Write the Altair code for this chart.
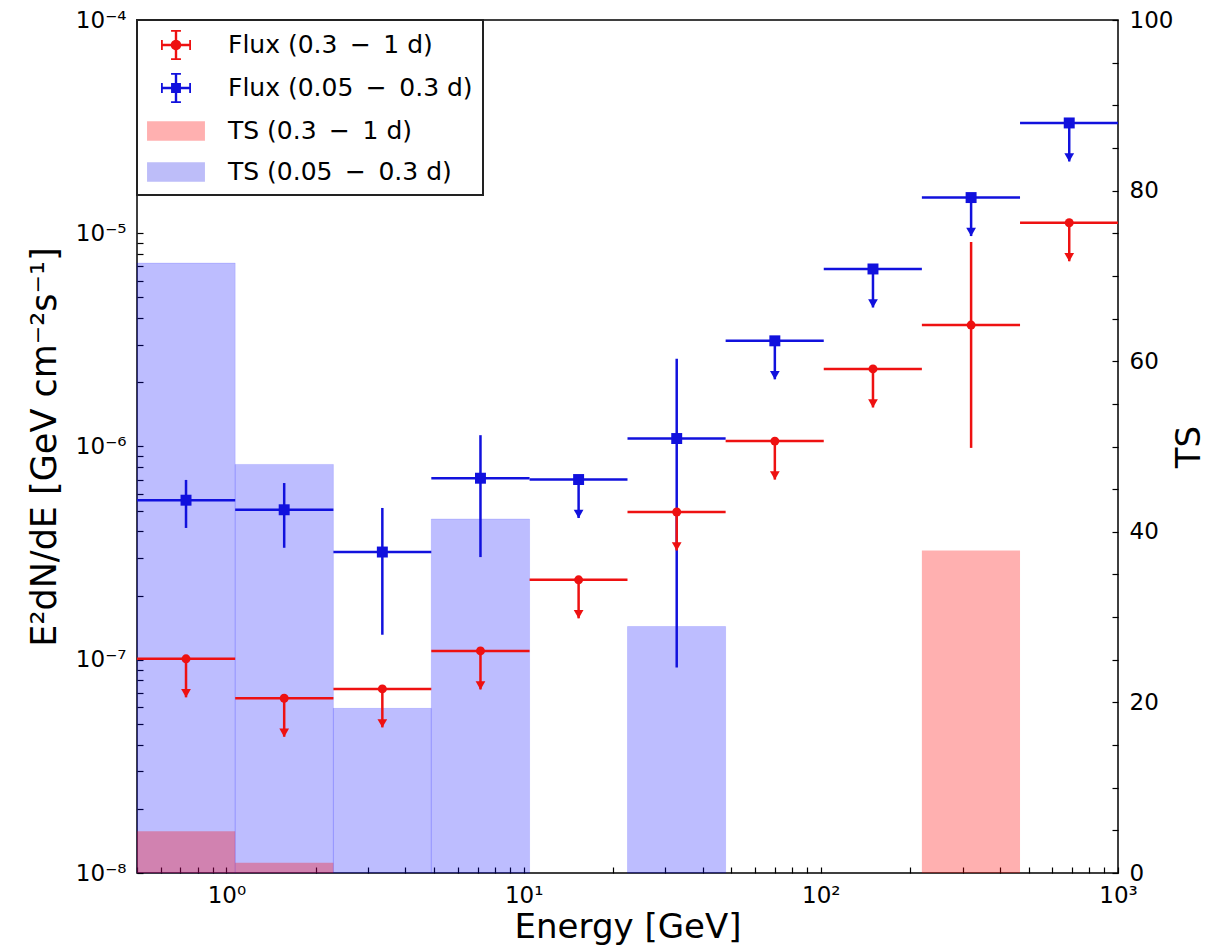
import altair as alt
import pandas as pd

# ---------------- data ----------------
E_LO = [0.5, 1.07, 2.29, 4.89, 10.47, 22.36, 47.83, 102.3, 218.8, 468.1]
E_HI = [1.07, 2.29, 4.89, 10.47, 22.36, 47.83, 102.3, 218.8, 468.1, 1000.0]
E_MID = [0.731, 1.564, 3.346, 7.157, 15.31, 32.74, 70.03, 149.8, 320.4, 685.3]

RED_FLUX = [1.01e-7, 6.6e-8, 7.3e-8, 1.10e-7, 2.37e-7, 4.93e-7, 1.06e-6, 2.31e-6, 3.71e-6, 1.12e-5]
RED_UL = [1, 1, 1, 1, 1, 1, 1, 1, 0, 1]
RED_ERR_LO = [None, None, None, None, None, None, None, None, 9.85e-7, None]
RED_ERR_HI = [None, None, None, None, None, None, None, None, 9.1e-6, None]

BLUE_FLUX = [5.6e-7, 5.05e-7, 3.2e-7, 7.1e-7, 7.0e-7, 1.09e-6, 3.13e-6, 6.8e-6, 1.47e-5, 3.29e-5]
BLUE_UL = [0, 0, 0, 0, 1, 0, 1, 1, 1, 1]
BLUE_ERR_LO = [4.15e-7, 3.35e-7, 1.31e-7, 3.03e-7, None, 9.2e-8, None, None, None, None]
BLUE_ERR_HI = [6.97e-7, 6.74e-7, 5.15e-7, 1.13e-6, None, 2.58e-6, None, None, None, None]

TS_RED = [4.9, 1.2, 0, 0, 0, 0, 0, 0, 37.8, 0]
TS_BLUE = [71.5, 47.9, 19.3, 41.5, 0, 28.9, 0, 0, 0, 0]

LEG_LABELS = ["Flux (0.3\u2002\u2212\u20021 d)", "Flux (0.05\u2002\u2212\u20020.3 d)",
              "TS (0.3\u2002\u2212\u20021 d)", "TS (0.05\u2002\u2212\u20020.3 d)"]

X_MAJOR = [1, 10, 100, 1000]
Y_MAJOR = [1e-8, 1e-7, 1e-6, 1e-5, 1e-4]
TS_TICKS = list(range(0, 101, 5))

# ---------------- styles ----------------
RED = "#ee1111"
BLUE = "#1111dd"
RED_PATCH = "#ffb0b0"
BLUE_PATCH = "#bdbdf9"
ARROW = 0.66      # upper-limit arrow length (fraction of value)
FONT = "DejaVu Sans"
LW = 2.5
TICK = 6

X_TICKS = sorted([k * 10.0 ** e for e in range(-1, 3) for k in range(1, 10)
                  if 0.5 <= k * 10.0 ** e <= 1000] + [1000])
Y_TICKS = sorted([k * 10.0 ** e for e in range(-8, -4) for k in range(1, 10)] + [1e-4])

XS = alt.Scale(type="log", domain=[0.5, 1000], nice=False)
YS = alt.Scale(type="log", domain=[1e-8, 1e-4], nice=False)
TSS = alt.Scale(domain=[0, 100], nice=False, zero=True)

# axes pulled inside by the tick length so that ticks point into the frame
common_axis = dict(grid=False, domain=False, offset=-TICK, tickSize=TICK, tickColor="black",
                   tickWidth=1.2, labelColor="black",
                   titleColor="black", labelFont=FONT, titleFont=FONT,
                   labelFontSize=23, titleFontWeight="normal",
                   labelFlush=False, labelOverlap=False, labelPadding=5 + TICK)

XAXIS = alt.Axis(title="Energy [GeV]", values=X_TICKS, titleFontSize=34,
                 labelExpr=("datum.value == 1 ? '10\u2070' : datum.value == 10 ? '10\u00b9' : "
                            "datum.value == 100 ? '10\u00b2' : datum.value == 1000 ? '10\u00b3' : ''"),
                 titlePadding=3, **common_axis)
YAXIS = alt.Axis(title="E\u00b2dN/dE [GeV cm\u207b\u00b2s\u207b\u00b9]", values=Y_TICKS, orient="left",
                 titleFontSize=35,
                 labelExpr=("datum.value == 1e-8 ? '10\u207b\u2078' : datum.value == 1e-7 ? '10\u207b\u2077' : "
                            "datum.value == 1e-6 ? '10\u207b\u2076' : datum.value == 1e-5 ? '10\u207b\u2075' : "
                            "datum.value == 1e-4 ? '10\u207b\u2074' : ''"),
                 titlePadding=13, **common_axis)
TSAXIS = alt.Axis(title="TS", values=TS_TICKS, orient="right", titleAngle=270, titleFontSize=34,
                  labelExpr="datum.value % 20 == 0 ? datum.label : ''",
                  titlePadding=34, **common_axis)


def xe(field):
    return alt.X(field, type="quantitative", scale=XS, axis=XAXIS)


def ye(field):
    return alt.Y(field, type="quantitative", scale=YS, axis=YAXIS)


def flux_frame(flux, ul, lo, hi):
    return pd.DataFrame({
        "e_lo": E_LO, "e_hi": E_HI, "e_mid": E_MID, "flux": flux, "ul": ul,
        "err_lo": lo, "err_hi": hi,
        "tip": [f * ARROW if u else None for f, u in zip(flux, ul)],
    })


def series_layers(df, color, shape, size):
    base = alt.Chart(df)
    hline = base.mark_rule(color=color, strokeWidth=LW).encode(
        x=xe("e_lo"), x2="e_hi", y=ye("flux"))
    verr = base.transform_filter("datum.ul == 0").mark_rule(color=color, strokeWidth=LW).encode(
        x=xe("e_mid"), y=ye("err_lo"), y2="err_hi")
    ulr = base.transform_filter("datum.ul == 1").mark_rule(color=color, strokeWidth=LW).encode(
        x=xe("e_mid"), y=ye("flux"), y2="tip")
    head = base.transform_filter("datum.ul == 1").mark_point(
        shape="triangle-down", filled=True, size=95, color=color, opacity=1, yOffset=-4
    ).encode(x=xe("e_mid"), y=ye("tip"))
    pt = base.mark_point(shape=shape, filled=True, size=size, color=color, opacity=1).encode(
        x=xe("e_mid"), y=ye("flux"))
    return [hline, verr, ulr, head, pt]


red_df = flux_frame(RED_FLUX, RED_UL, RED_ERR_LO, RED_ERR_HI)
blue_df = flux_frame(BLUE_FLUX, BLUE_UL, BLUE_ERR_LO, BLUE_ERR_HI)

# ---------------- TS bars (right axis) ----------------
ts_df = pd.DataFrame({"e_lo": E_LO, "e_hi": E_HI, "ts_red": TS_RED, "ts_blue": TS_BLUE})
blue_bars = alt.Chart(ts_df).transform_filter("datum.ts_blue > 0").mark_rect(
    fill="#0000ff", fillOpacity=0.26, stroke="#0000ff", strokeOpacity=0.12, strokeWidth=1
).encode(x=xe("e_lo"), x2="e_hi",
         y=alt.Y("ts_blue", type="quantitative", scale=TSS, axis=TSAXIS),
         y2=alt.datum(0))
red_bars = alt.Chart(ts_df).transform_filter("datum.ts_red > 0").mark_rect(
    fill="#ff0000", fillOpacity=0.31, strokeWidth=0
).encode(x=xe("e_lo"), x2="e_hi",
         y=alt.Y("ts_red", type="quantitative", scale=TSS, axis=TSAXIS),
         y2=alt.datum(0))
ts_layer = alt.layer(blue_bars, red_bars)

# ---------------- legend ----------------
PATH_ERR_RED = ("M-1,-0.08H1V0.08H-1Z M-0.08,-1H0.08V1H-0.08Z "
                "M-1,-0.33H-0.88V0.33H-1Z M0.88,-0.33H1V0.33H0.88Z "
                "M-0.33,-1H0.33V-0.88H-0.33Z M-0.33,0.88H0.33V1H-0.33Z "
                "M-0.35,0A0.35,0.35,0,1,1,0.35,0A0.35,0.35,0,1,1,-0.35,0Z")
PATH_ERR_BLUE = ("M-1,-0.08H1V0.08H-1Z M-0.08,-1H0.08V1H-0.08Z "
                 "M-1,-0.33H-0.88V0.33H-1Z M0.88,-0.33H1V0.33H0.88Z "
                 "M-0.33,-1H0.33V-0.88H-0.33Z M-0.33,0.88H0.33V1H-0.33Z "
                 "M-0.33,-0.33H0.33V0.33H-0.33Z")
PATH_RECT = "M-1.93,-0.65H1.93V0.65H-1.93Z"

leg_df = pd.DataFrame({"label": LEG_LABELS, "e_mid": [E_MID[0]] * 4, "flux": [RED_FLUX[0]] * 4})
LEG = alt.Legend(title=None, orient="top-left", offset=0, padding=10, symbolSize=900,
                 symbolStrokeWidth=0, symbolOpacity=1, labelFontSize=25, labelFont=FONT,
                 labelColor="black", labelLimit=500, rowPadding=13, symbolOffset=14,
                 labelOffset=37, fillColor="white", strokeColor="#222222")
legend_layer = alt.Chart(leg_df).mark_point(filled=True, opacity=0).encode(
    x=xe("e_mid"), y=ye("flux"),
    color=alt.Color("label:N", scale=alt.Scale(domain=LEG_LABELS,
                                               range=[RED, BLUE, RED_PATCH, BLUE_PATCH]), legend=LEG),
    shape=alt.Shape("label:N", scale=alt.Scale(domain=LEG_LABELS,
                                               range=[PATH_ERR_RED, PATH_ERR_BLUE, PATH_RECT, PATH_RECT]),
                    legend=LEG),
)

flux_layer = alt.layer(
    *series_layers(blue_df, BLUE, "square", 120),
    *series_layers(red_df, RED, "circle", 80),
    legend_layer,
)

chart = alt.layer(ts_layer, flux_layer).resolve_scale(y="independent").properties(
    width=981, height=853,
    autosize=alt.AutoSizeParams(type="none"),
    padding={"left": 137, "top": 20, "right": 100, "bottom": 77},
    background="white",
).configure_view(stroke="black", strokeWidth=1.5).configure_legend(strokeWidth=2)

chart.save("out.html", embed_options={"renderer": "svg", "actions": False})
